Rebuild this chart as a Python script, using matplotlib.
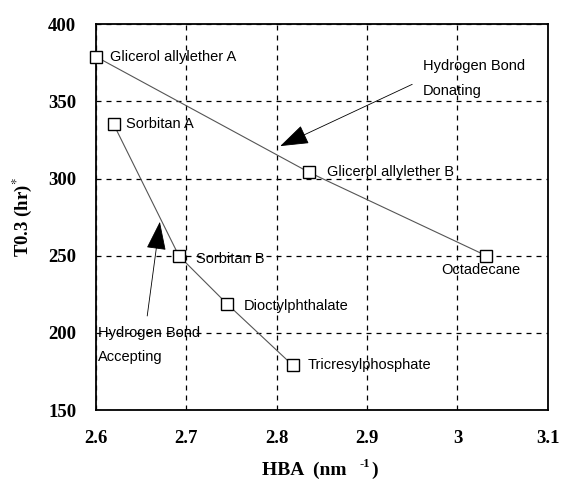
import numpy as np
import matplotlib
matplotlib.use("Agg")
import matplotlib.pyplot as plt

plt.rcParams['mathtext.fontset'] = 'stix'

# series 1: hydrogen bond donating
don_names = ["Glicerol allylether A", "Glicerol allylether B", "Octadecane"]
don_hba = [2.600, 2.836, 3.032]
don_t = [379, 304, 250]

# series 2: hydrogen bond accepting
acc_names = ["Sorbitan A", "Sorbitan B", "Dioctylphthalate", "Tricresylphosphate"]
acc_hba = [2.620, 2.692, 2.745, 2.818]
acc_t = [335, 250, 219, 179]

xticks = [2.6, 2.7, 2.8, 2.9, 3.0, 3.1]
xticklabels = ["2.6", "2.7", "2.8", "2.9", "3", "3.1"]
yticks = [150, 200, 250, 300, 350, 400]

# label offsets in points (dx, dy)
don_off = [(10, 0), (13, 0), (-4, -10)]
don_ha = ["left", "left", "center"]
acc_off = [(9, 0), (12, -2), (12, -2), (11, 0)]

fig = plt.figure(figsize=(5.66, 4.82), dpi=100)
ax = fig.add_axes([0.169, 0.149, 0.799, 0.801])

mk = dict(marker='s', markersize=8.5, markerfacecolor='white',
          markeredgecolor='black', markeredgewidth=1.0,
          color='#555555', linewidth=0.8, clip_on=False)
ax.plot(don_hba, don_t, **mk, zorder=3)
ax.plot(acc_hba, acc_t, **mk, zorder=3)

lab = dict(fontsize=10.5, family='Liberation Sans', va='center',
           textcoords='offset points')
for n, x, y, o, ha in zip(don_names, don_hba, don_t, don_off, don_ha):
    ax.annotate(n, (x, y), xytext=o, ha=ha, **lab)
for n, x, y, o in zip(acc_names, acc_hba, acc_t, acc_off):
    ax.annotate(n, (x, y), xytext=o, ha='left', **lab)

arr = dict(arrowstyle='-|>,head_length=1.3,head_width=0.45',
           mutation_scale=14, color='black', lw=0.6, shrinkA=0, shrinkB=0)
ax.annotate("", xy=(2.804, 321), xytext=(2.950, 361), arrowprops=arr)
ax.annotate("", xy=(2.671, 272), xytext=(2.657, 211), arrowprops=arr)

txt = dict(fontsize=10.5, family='Liberation Sans', va='center', ha='left')
ax.text(2.962, 373, "Hydrogen Bond", **txt)
ax.text(2.962, 357, "Donating", **txt)
ax.text(2.603, 200, "Hydrogen Bond", **txt)
ax.text(2.603, 184.5, "Accepting", **txt)

ax.set_xlim(2.6, 3.1)
ax.set_ylim(150, 400)
ax.set_xticks(xticks)
ax.set_xticklabels(xticklabels)
ax.set_yticks(yticks)
ax.tick_params(length=0, pad=14)
for t in ax.get_xticklabels() + ax.get_yticklabels():
    t.set_fontfamily('Liberation Serif')
    t.set_fontweight('bold')
    t.set_fontsize(13.5)
ax.grid(True, color='black', linestyle=(0, (4, 4)), linewidth=0.9)
for s in ax.spines.values():
    s.set_linewidth(1.3)

# x label built from pieces: "HBA (nm", small raised "-1", ")"
xl = dict(fontfamily='Liberation Serif', fontweight='bold', va='baseline')
fig.text(262 / 566, 1 - 475 / 482, "HBA  (nm", fontsize=14, ha='left', **xl)
fig.text(359 / 566, 1 - 467 / 482, "-1", fontsize=9, ha='left', **xl)
fig.text(371 / 566, 1 - 475 / 482, ")", fontsize=14, ha='left', **xl)

ax.set_ylabel(r"T0.3 (hr)$^{*}$", fontfamily='Liberation Serif',
              fontweight='bold', fontsize=13.5, labelpad=10)

fig.savefig("out.png", dpi=100)
